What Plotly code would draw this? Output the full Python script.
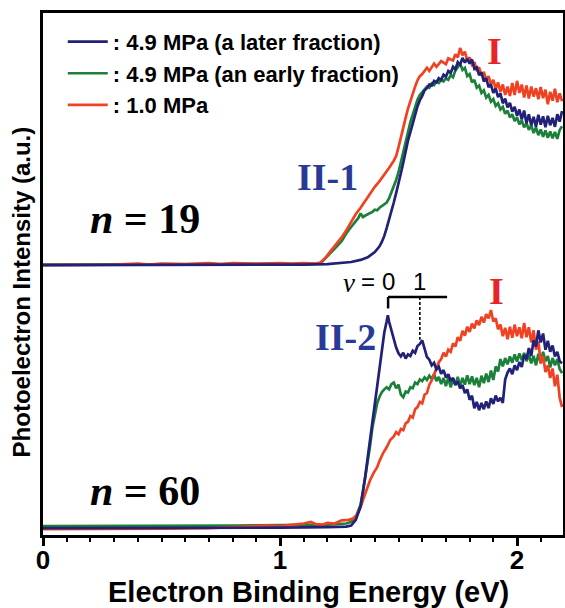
import plotly.graph_objects as go

# ---------------- data (energy in eV, intensity in a.u.) ----------------
OFFSET_19 = 51.7   # vertical offset of the n = 19 spectra
OFFSET_60 = 1.3    # vertical offset of the n = 60 spectra

n19_blue = [(0.00, 0.0), (0.50, 0.0), (1.00, 0.0), (1.10, 0.1), (1.20, 0.2), (1.25, 0.4), (1.30, 0.6),
    (1.34, 1.0), (1.37, 1.5), (1.40, 2.5), (1.42, 3.6), (1.43, 4.5), (1.44, 5.6), (1.45, 7.1), (1.46, 8.6),
    (1.47, 10.2), (1.48, 12.0), (1.49, 13.8), (1.50, 15.5), (1.51, 17.6), (1.52, 19.6), (1.53, 22.0),
    (1.54, 23.9), (1.55, 25.5), (1.56, 27.3), (1.57, 28.6), (1.58, 30.4), (1.59, 31.6), (1.60, 32.4),
    (1.61, 33.5), (1.62, 33.9), (1.63, 34.6), (1.64, 34.4), (1.65, 35.3), (1.66, 35.0), (1.67, 35.8),
    (1.68, 35.5), (1.69, 36.5), (1.70, 36.1), (1.71, 37.2), (1.72, 36.8), (1.73, 38.0), (1.74, 37.5),
    (1.75, 38.9), (1.76, 38.4), (1.77, 39.7), (1.78, 38.8), (1.79, 39.5), (1.80, 38.6), (1.81, 39.4),
    (1.82, 37.6), (1.83, 37.9), (1.84, 36.4), (1.85, 36.9), (1.86, 35.2), (1.87, 35.8), (1.88, 34.1),
    (1.89, 34.6), (1.90, 33.0), (1.91, 33.8), (1.92, 32.2), (1.93, 32.9), (1.94, 31.0), (1.95, 31.9),
    (1.96, 30.2), (1.97, 31.1), (1.98, 29.4), (1.99, 30.3), (2.00, 28.6), (2.01, 29.8), (2.02, 27.9),
    (2.03, 29.6), (2.04, 27.2), (2.05, 28.9), (2.06, 26.8), (2.07, 28.4), (2.08, 26.5), (2.09, 28.8),
    (2.10, 26.9), (2.11, 28.5), (2.12, 26.4), (2.13, 28.6), (2.14, 26.8), (2.15, 28.2), (2.16, 26.5),
    (2.17, 28.9), (2.18, 27.5), (2.19, 29.5)]

n19_green = [(0.00, 0.1), (0.50, 0.1), (1.00, 0.2), (1.10, 0.2), (1.17, 0.3), (1.19, 1.2), (1.21, 2.2),
    (1.24, 3.6), (1.26, 4.6), (1.28, 6.1), (1.30, 7.3), (1.32, 8.5), (1.33, 9.0), (1.34, 9.9), (1.35, 9.2),
    (1.36, 9.5), (1.37, 9.7), (1.38, 10.0), (1.39, 10.2), (1.40, 10.6), (1.41, 10.5), (1.42, 11.0),
    (1.43, 11.3), (1.44, 11.6), (1.45, 12.0), (1.46, 12.8), (1.47, 13.9), (1.48, 15.0), (1.49, 16.3),
    (1.50, 17.8), (1.51, 19.8), (1.52, 22.0), (1.53, 24.0), (1.54, 25.7), (1.55, 27.4), (1.56, 28.8),
    (1.57, 30.4), (1.58, 31.7), (1.59, 32.6), (1.60, 33.2), (1.61, 33.7), (1.62, 34.2), (1.63, 34.0),
    (1.64, 34.8), (1.65, 34.5), (1.66, 35.2), (1.67, 34.9), (1.68, 35.5), (1.69, 35.2), (1.70, 35.8),
    (1.71, 35.5), (1.72, 36.4), (1.73, 36.0), (1.74, 37.3), (1.75, 37.9), (1.76, 38.6), (1.77, 37.4),
    (1.78, 37.8), (1.79, 36.2), (1.80, 36.6), (1.81, 35.0), (1.82, 35.5), (1.83, 34.0), (1.84, 34.4),
    (1.85, 33.0), (1.86, 33.5), (1.87, 32.1), (1.88, 32.6), (1.89, 31.3), (1.90, 31.8), (1.91, 30.5),
    (1.92, 31.0), (1.93, 29.8), (1.94, 30.3), (1.95, 29.0), (1.96, 29.6), (1.97, 28.3), (1.98, 28.9),
    (1.99, 27.6), (2.00, 28.3), (2.01, 27.0), (2.02, 27.7), (2.03, 26.4), (2.04, 27.2), (2.05, 25.9),
    (2.06, 26.8), (2.07, 25.3), (2.08, 26.4), (2.09, 24.9), (2.10, 26.0), (2.11, 24.6), (2.12, 25.8),
    (2.13, 24.4), (2.14, 25.6), (2.15, 24.3), (2.16, 25.5), (2.17, 24.2), (2.18, 25.9), (2.19, 26.6)]

n19_red = [(0.00, 0.0), (0.30, 0.1), (0.40, 0.3), (0.45, 0.1), (0.50, 0.3), (0.60, 0.2), (0.70, 0.4),
    (0.75, 0.2), (0.80, 0.4), (0.90, 0.3), (1.00, 0.4), (1.05, 0.3), (1.10, 0.4), (1.15, 0.3), (1.17, 0.5),
    (1.19, 1.3), (1.21, 2.5), (1.24, 4.2), (1.26, 5.3), (1.28, 6.7), (1.30, 8.3), (1.32, 9.8), (1.34, 11.0),
    (1.36, 12.3), (1.38, 13.8), (1.40, 15.0), (1.42, 16.1), (1.44, 17.3), (1.46, 18.6), (1.48, 20.0),
    (1.49, 20.9), (1.50, 22.6), (1.51, 24.3), (1.52, 26.5), (1.53, 28.2), (1.54, 30.0), (1.55, 31.5),
    (1.56, 33.0), (1.57, 34.2), (1.58, 35.4), (1.59, 36.2), (1.60, 36.6), (1.62, 37.8), (1.63, 37.2),
    (1.65, 38.6), (1.66, 38.0), (1.68, 39.1), (1.70, 38.5), (1.71, 39.6), (1.73, 39.2), (1.74, 40.4),
    (1.75, 39.8), (1.76, 41.6), (1.77, 40.2), (1.78, 40.9), (1.79, 39.2), (1.80, 39.8), (1.81, 38.4),
    (1.82, 38.9), (1.83, 37.2), (1.84, 37.9), (1.85, 36.3), (1.86, 37.0), (1.87, 35.4), (1.88, 36.2),
    (1.89, 34.6), (1.90, 35.5), (1.91, 33.8), (1.92, 35.0), (1.93, 33.2), (1.94, 34.6), (1.95, 32.6),
    (1.96, 34.2), (1.97, 32.4), (1.98, 34.9), (1.99, 32.6), (2.00, 35.3), (2.01, 33.0), (2.02, 34.6),
    (2.03, 32.1), (2.04, 34.4), (2.05, 31.9), (2.06, 34.2), (2.07, 32.3), (2.08, 33.9), (2.09, 31.8),
    (2.10, 34.1), (2.11, 32.0), (2.12, 33.6), (2.13, 30.8), (2.14, 33.2), (2.15, 31.5), (2.16, 33.8),
    (2.17, 31.2), (2.18, 32.9), (2.19, 31.4)]

n60_blue = [(0.00, 0.0), (0.50, 0.0), (1.00, 0.1), (1.20, 0.2), (1.28, 0.3), (1.30, 0.5), (1.32, 1.6),
    (1.34, 4.2), (1.35, 6.8), (1.36, 10.0), (1.37, 13.5), (1.38, 16.9), (1.39, 21.0), (1.40, 24.5),
    (1.41, 27.2), (1.42, 31.2), (1.43, 34.8), (1.44, 37.5), (1.45, 39.6), (1.455, 40.8), (1.46, 39.6),
    (1.47, 37.8), (1.48, 36.0), (1.49, 34.6), (1.50, 33.5), (1.51, 32.9), (1.52, 33.6), (1.53, 32.5),
    (1.54, 33.3), (1.55, 33.0), (1.56, 34.0), (1.57, 33.6), (1.58, 34.9), (1.59, 35.3), (1.60, 36.0),
    (1.61, 34.2), (1.62, 32.8), (1.63, 32.3), (1.64, 31.2), (1.65, 31.7), (1.66, 30.4), (1.67, 30.9),
    (1.68, 29.6), (1.69, 30.3), (1.70, 28.9), (1.71, 29.5), (1.72, 28.2), (1.73, 28.8), (1.74, 27.5),
    (1.75, 28.1), (1.76, 26.8), (1.77, 27.4), (1.78, 25.9), (1.79, 26.6), (1.80, 24.6), (1.81, 25.4),
    (1.82, 23.0), (1.83, 24.2), (1.84, 22.6), (1.85, 24.0), (1.86, 22.8), (1.87, 24.3), (1.88, 23.0),
    (1.89, 24.9), (1.90, 23.8), (1.91, 25.4), (1.92, 24.3), (1.93, 25.0), (1.94, 24.0), (1.95, 28.5),
    (1.96, 29.8), (1.97, 30.6), (1.98, 29.5), (1.99, 31.2), (2.00, 30.3), (2.01, 31.8), (2.02, 30.9),
    (2.03, 33.2), (2.04, 32.4), (2.05, 34.5), (2.06, 33.0), (2.07, 36.0), (2.08, 34.8), (2.09, 37.9),
    (2.10, 35.6), (2.11, 37.3), (2.12, 34.2), (2.13, 35.9), (2.14, 33.8), (2.15, 35.0), (2.16, 32.9),
    (2.17, 33.8), (2.18, 32.0), (2.19, 31.6)]

n60_green = [(0.00, 0.4), (0.50, 0.4), (0.80, 0.5), (1.00, 0.6), (1.20, 0.7), (1.28, 0.9), (1.30, 1.2),
    (1.32, 2.2), (1.34, 4.5), (1.35, 7.0), (1.36, 9.8), (1.37, 12.6), (1.38, 15.8), (1.39, 19.3),
    (1.40, 21.9), (1.41, 24.0), (1.42, 25.2), (1.43, 26.1), (1.44, 26.6), (1.45, 27.0), (1.46, 26.6),
    (1.47, 27.6), (1.48, 27.9), (1.49, 26.8), (1.50, 27.5), (1.51, 25.6), (1.52, 25.1), (1.53, 26.2),
    (1.54, 26.0), (1.55, 27.0), (1.56, 26.8), (1.57, 27.9), (1.58, 27.6), (1.59, 28.5), (1.60, 28.2),
    (1.61, 28.9), (1.62, 28.4), (1.63, 29.2), (1.64, 28.6), (1.65, 29.5), (1.66, 28.2), (1.67, 29.0),
    (1.68, 27.6), (1.69, 28.8), (1.70, 27.2), (1.71, 28.9), (1.72, 27.0), (1.73, 28.6), (1.74, 27.4),
    (1.75, 29.0), (1.76, 27.2), (1.77, 28.8), (1.78, 27.5), (1.79, 29.3), (1.80, 27.6), (1.81, 29.1),
    (1.82, 27.4), (1.83, 28.8), (1.84, 27.0), (1.85, 29.2), (1.86, 27.8), (1.87, 29.6), (1.88, 28.0),
    (1.89, 30.2), (1.90, 28.4), (1.91, 31.0), (1.92, 30.0), (1.93, 32.4), (1.94, 31.0), (1.95, 32.6),
    (1.96, 31.4), (1.97, 32.9), (1.98, 31.7), (1.99, 33.3), (2.00, 31.9), (2.01, 33.5), (2.02, 32.2),
    (2.03, 33.6), (2.04, 32.0), (2.05, 33.2), (2.06, 31.6), (2.07, 33.0), (2.08, 31.2), (2.09, 33.4),
    (2.10, 31.6), (2.11, 33.8), (2.12, 32.0), (2.13, 33.0), (2.14, 30.8), (2.15, 32.6), (2.16, 31.2),
    (2.17, 32.4), (2.18, 30.5), (2.19, 29.7)]

n60_red = [(0.00, -0.2), (0.30, -0.2), (0.50, -0.1), (0.70, 0.0), (0.80, 0.2), (0.90, 0.3), (0.95, 0.5),
    (1.00, 0.4), (1.05, 0.6), (1.10, 0.9), (1.13, 1.2), (1.15, 0.8), (1.18, 0.7), (1.20, 1.0), (1.23, 0.9),
    (1.26, 1.5), (1.29, 1.6), (1.31, 1.9), (1.325, 2.6), (1.34, 4.0), (1.35, 5.4), (1.365, 7.4), (1.38, 9.2),
    (1.395, 10.6), (1.41, 11.7), (1.42, 12.9), (1.435, 14.4), (1.45, 15.5), (1.465, 16.9), (1.48, 17.6),
    (1.49, 18.4), (1.50, 18.0), (1.51, 19.0), (1.52, 18.8), (1.53, 20.1), (1.54, 20.4), (1.55, 21.5),
    (1.56, 21.2), (1.57, 22.8), (1.58, 23.2), (1.59, 24.2), (1.60, 23.9), (1.61, 25.6), (1.62, 25.9),
    (1.63, 27.5), (1.64, 28.3), (1.65, 29.5), (1.66, 30.6), (1.67, 31.8), (1.68, 32.4), (1.69, 33.6),
    (1.70, 32.9), (1.71, 34.2), (1.72, 33.8), (1.73, 35.4), (1.74, 34.8), (1.75, 36.6), (1.76, 35.9),
    (1.77, 37.8), (1.78, 36.9), (1.79, 38.6), (1.80, 37.6), (1.81, 39.2), (1.82, 38.3), (1.83, 39.8),
    (1.84, 38.9), (1.85, 40.5), (1.86, 39.4), (1.87, 41.0), (1.88, 40.2), (1.89, 41.8), (1.90, 39.6),
    (1.91, 40.2), (1.92, 38.1), (1.93, 39.0), (1.94, 36.8), (1.95, 38.4), (1.96, 36.2), (1.97, 38.6),
    (1.98, 36.5), (1.99, 39.0), (2.00, 36.8), (2.01, 38.5), (2.02, 36.4), (2.03, 39.3), (2.04, 36.6),
    (2.05, 38.5), (2.06, 35.6), (2.07, 37.9), (2.08, 34.2), (2.09, 35.8), (2.10, 31.6), (2.11, 33.0),
    (2.12, 29.9), (2.13, 31.2), (2.14, 28.8), (2.15, 30.6), (2.16, 27.2), (2.17, 29.4), (2.18, 25.0),
    (2.19, 23.2)]

legend_names = [": 4.9 MPa (a later fraction)", ": 4.9 MPa (an early fraction)", ": 1.0 MPa"]
x_ticks = [0, 1, 2]

# vibrational progression marks (eV) of band II-2
v_levels = [1.456, 1.59]
v_labels = ["0", "1"]

BLUE = "rgb(33,33,120)"
GREEN = "rgb(28,128,58)"
RED = "rgb(240,66,34)"

fig = go.Figure()

def add(curve, offset, color, name, rank, show):
    xs = [p[0] for p in curve]
    ys = [p[1] + offset for p in curve]
    fig.add_trace(go.Scatter(
        x=xs, y=ys, mode="lines", line=dict(color=color, width=2.7),
        name="<b>" + name + "</b>", legendgroup=name, legendrank=rank,
        showlegend=show, hoverinfo="skip"))

# draw order: green, red, blue on top
add(n60_green, OFFSET_60, GREEN, legend_names[1], 2, False)
add(n60_red, OFFSET_60, RED, legend_names[2], 3, False)
add(n60_blue, OFFSET_60, BLUE, legend_names[0], 1, False)
add(n19_green, OFFSET_19, GREEN, legend_names[1], 2, True)
add(n19_red, OFFSET_19, RED, legend_names[2], 3, True)
add(n19_blue, OFFSET_19, BLUE, legend_names[0], 1, True)

serif = "Liberation Serif"
sans = "Liberation Sans"
LBLUE = "rgb(40,58,150)"
LRED = "rgb(232,36,40)"

ann = []
def text(x, y, s, size, color="black", family=serif, weight="bold", xanchor="center"):
    ann.append(dict(x=x, y=y, xref="x", yref="y", text=s, showarrow=False,
                    font=dict(family=family, size=size, color=color, weight=weight),
                    xanchor=xanchor, yanchor="middle"))

text(0.43, 60.5, "<i>n</i> = 19", 42)
text(0.43, 8.5, "<i>n</i> = 60", 42)
text(1.20, 68.5, "II-1", 38, LBLUE)
text(1.905, 92.8, "I", 38, LRED)
text(1.275, 38.0, "II-2", 38, LBLUE)
text(1.915, 46.8, "I", 38, LRED)
text(1.293, 48.2, "<i>ν</i>", 27, family=serif, weight="normal")
text(1.372, 48.6, "=", 24, family=sans, weight="normal")
for e, lab in zip(v_levels, v_labels):
    text(e, 48.6, lab, 24, family=sans, weight="normal")

# bracket for v = 0, 1
yb = 45.6
fig.add_shape(type="line", x0=v_levels[0], x1=1.705, y0=yb, y1=yb, line=dict(color="black", width=2.5))
fig.add_shape(type="line", x0=v_levels[0], x1=v_levels[0], y0=yb, y1=43.4, line=dict(color="black", width=2.5))
fig.add_shape(type="line", x0=v_levels[1], x1=v_levels[1], y0=yb, y1=37.4,
              line=dict(color="black", width=1.6, dash="3px,2px"))

# axis titles as paper annotations
ann.append(dict(x=0.51, y=-0.109, xref="paper", yref="paper", text="Electron Binding Energy (eV)",
                showarrow=False, font=dict(family=sans, size=29, color="black", weight="bold"),
                xanchor="center", yanchor="middle"))
ann.append(dict(x=-0.041, y=0.466, xref="paper", yref="paper", text="Photoelectron Intensity (a.u.)",
                showarrow=False, textangle=-90, font=dict(family=sans, size=24, color="black", weight="bold"),
                xanchor="center", yanchor="middle"))

fig.update_layout(
    width=565, height=608,
    margin=dict(l=43, r=2, t=13, b=73, autoexpand=False),
    paper_bgcolor="white", plot_bgcolor="white",
    annotations=ann,
    showlegend=True,
    legend=dict(x=0.038, y=0.985, xanchor="left", yanchor="top", bgcolor="rgba(0,0,0,0)",
                font=dict(family=sans, size=22, color="black"),
                traceorder="grouped", tracegroupgap=0, itemwidth=40),
    xaxis=dict(range=[0, 2.194], tickvals=x_ticks, ticktext=[str(t) for t in x_ticks],
               ticks="outside", ticklen=8, tickwidth=2.5, tickcolor="black",
               tickfont=dict(family=sans, size=26, color="black", weight="bold"),
               ticklabelstandoff=-8,
               showline=True, linewidth=2.5, linecolor="black", mirror=True,
               showgrid=False, zeroline=False, automargin=False,
               minor=dict(dtick=0.1, ticks="outside", ticklen=4, tickwidth=2, tickcolor="black", showgrid=False)),
    yaxis=dict(range=[0, 100], showticklabels=False, ticks="",
               showline=True, linewidth=2.5, linecolor="black", mirror=True,
               showgrid=False, zeroline=False, automargin=False),
)

# remove the default 8 px page margin so the figure fills the window exactly
fig.write_html("out.html", config={"displayModeBar": False},
               post_script="document.body.style.margin='0px';")
